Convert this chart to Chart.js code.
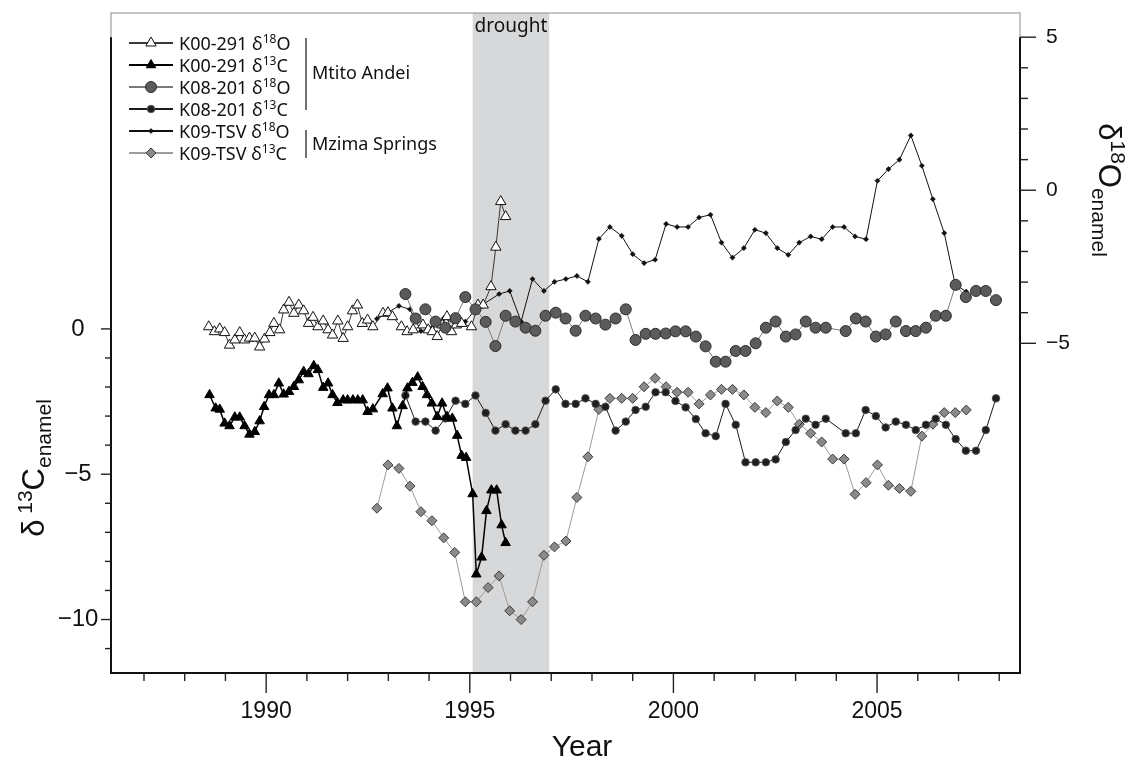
<!DOCTYPE html>
<html>
<head>
<meta charset="utf-8">
<title>Enamel isotope series</title>
<script src="https://cdn.jsdelivr.net/npm/chart.js@4.4.0/dist/chart.umd.min.js"></script>
<style>
  html, body { margin: 0; padding: 0; background: #fff; }
  canvas { display: block; }
</style>
</head>
<body>
<canvas id="isoChart" width="1130" height="761"></canvas>
<script>
// K00-291 (Mtito Andei), serial samples
const k00Years18 = [1988.59, 1988.73, 1988.86, 1988.98, 1989.10, 1989.23, 1989.35, 1989.47, 1989.59, 1989.72,
  1989.84, 1989.96, 1990.09, 1990.19, 1990.33, 1990.43, 1990.56, 1990.68, 1990.80, 1990.92,
  1991.04, 1991.15, 1991.27, 1991.40, 1991.52, 1991.63, 1991.76, 1991.89, 1992.00, 1992.12,
  1992.24, 1992.36, 1992.49, 1992.62, 1992.87, 1992.99, 1993.10, 1993.32, 1993.46, 1993.61,
  1993.85, 1993.98, 1994.08, 1994.20, 1994.32, 1994.44, 1994.55, 1994.67, 1994.80, 1995.04,
  1995.20, 1995.33, 1995.52, 1995.64, 1995.76, 1995.88];
const k00O18 = [-4.46, -4.62, -4.53, -4.65, -5.06, -4.89, -4.65, -4.89, -4.83, -4.83,
  -5.12, -4.86, -4.65, -4.35, -4.56, -3.91, -3.66, -4.02, -3.75, -3.94,
  -4.35, -4.15, -4.46, -4.27, -4.56, -4.73, -4.27, -4.84, -4.46, -3.94,
  -3.75, -4.35, -4.24, -4.46, -4.02, -4.00, -4.13, -4.46, -4.62, -4.56,
  -4.40, -4.56, -4.62, -4.78, -4.40, -4.13, -4.62, -4.40, -4.35, -4.46,
  -3.75, -3.75, -3.15, -1.86, -0.37, -0.86];

const k00Years13 = [1988.61, 1988.76, 1988.86, 1988.98, 1989.10, 1989.23, 1989.35, 1989.47, 1989.59, 1989.72,
  1989.84, 1989.95, 1990.07, 1990.19, 1990.31, 1990.43, 1990.56, 1990.68, 1990.80, 1990.92,
  1991.04, 1991.17, 1991.27, 1991.40, 1991.52, 1991.63, 1991.75, 1991.89, 1992.00, 1992.13,
  1992.25, 1992.37, 1992.49, 1992.62, 1992.86, 1992.98, 1993.10, 1993.21, 1993.35, 1993.47,
  1993.59, 1993.72, 1993.84, 1993.95, 1994.07, 1994.20, 1994.32, 1994.44, 1994.57, 1994.69,
  1994.80, 1994.91, 1995.07, 1995.16, 1995.29, 1995.41, 1995.53, 1995.66, 1995.78, 1995.88];
const k00C13 = [-2.27, -2.73, -2.77, -3.25, -3.34, -3.04, -3.04, -3.34, -3.63, -3.54,
  -3.17, -2.68, -2.27, -2.27, -1.87, -2.25, -2.16, -1.99, -1.76, -1.47,
  -1.55, -1.27, -1.41, -2.02, -1.87, -2.27, -2.54, -2.45, -2.45, -2.45,
  -2.45, -2.45, -2.85, -2.76, -2.24, -2.04, -2.73, -3.34, -2.65, -2.04,
  -1.85, -1.66, -1.99, -2.27, -2.56, -3.02, -2.56, -3.02, -3.08, -3.67,
  -4.36, -4.43, -5.68, -8.44, -7.86, -6.26, -5.55, -5.55, -6.75, -7.36];

// K08-201 (Mtito Andei), quarterly samples
const k08Years = [1993.42, 1993.67, 1993.91, 1994.16, 1994.40, 1994.65, 1994.89, 1995.14, 1995.39, 1995.63,
  1995.88, 1996.12, 1996.37, 1996.61, 1996.86, 1997.11, 1997.35, 1997.60, 1997.84, 1998.09,
  1998.33, 1998.58, 1998.83, 1999.07, 1999.32, 1999.56, 1999.81, 2000.05, 2000.30, 2000.55,
  2000.79, 2001.04, 2001.28, 2001.53, 2001.77, 2002.02, 2002.27, 2002.51, 2002.76, 2003.00,
  2003.25, 2003.49, 2003.74, 2004.23, 2004.48, 2004.72, 2004.97, 2005.21, 2005.46, 2005.71,
  2005.95, 2006.20, 2006.44, 2006.69, 2006.93, 2007.18, 2007.43, 2007.67, 2007.92];
const k08O18 = [-3.39, -4.19, -3.89, -4.29, -4.49, -4.18, -3.49, -3.89, -4.30, -5.09,
  -4.10, -4.29, -4.49, -4.59, -4.10, -4.00, -4.19, -4.59, -4.10, -4.19,
  -4.39, -4.19, -3.89, -4.89, -4.69, -4.69, -4.68, -4.61, -4.61, -4.78,
  -5.10, -5.60, -5.60, -5.25, -5.25, -5.00, -4.49, -4.29, -4.78, -4.71,
  -4.29, -4.49, -4.49, -4.60, -4.19, -4.29, -4.78, -4.71, -4.29, -4.60,
  -4.60, -4.49, -4.10, -4.10, -3.09, -3.49, -3.29, -3.29, -3.59];
const k08C13 = [-2.29, -3.19, -3.19, -3.50, -3.08, -2.47, -2.58, -2.29, -2.89, -3.50,
  -3.28, -3.50, -3.50, -3.28, -2.47, -2.08, -2.58, -2.58, -2.39, -2.58,
  -2.68, -3.50, -3.19, -2.79, -2.68, -2.18, -2.18, -2.48, -2.70, -3.10,
  -3.59, -3.69, -2.58, -3.30, -4.59, -4.59, -4.59, -4.49, -3.89, -3.48,
  -3.09, -3.30, -3.09, -3.59, -3.59, -2.79, -3.00, -3.39, -3.19, -3.30,
  -3.48, -3.30, -3.09, -3.30, -3.79, -4.19, -4.19, -3.48, -2.39];

// K09-TSV (Mzima Springs)
const k09Years = [1992.72, 1992.99, 1993.26, 1993.53, 1993.80, 1994.07, 1994.36, 1994.63, 1994.89, 1995.16,
  1995.45, 1995.72, 1995.98, 1996.26, 1996.54, 1996.82, 1997.08, 1997.36, 1997.63, 1997.90,
  1998.17, 1998.44, 1998.73, 1999.00, 1999.28, 1999.55, 1999.82, 2000.09, 2000.36, 2000.63,
  2000.91, 2001.18, 2001.45, 2001.73, 2002.00, 2002.27, 2002.55, 2002.82, 2003.09, 2003.37,
  2003.64, 2003.91, 2004.19, 2004.46, 2004.73, 2005.01, 2005.28, 2005.55, 2005.83, 2006.10,
  2006.37, 2006.65, 2006.92, 2007.19];
const k09O18 = [-4.20, -3.99, -3.78, -3.89, -4.60, -4.49, -4.18, -4.35, -4.29, -3.87,
  null, -3.39, -3.29, -4.29, -2.90, -3.29, -2.99, -2.90, -2.80, -2.99,
  -1.59, -1.20, -1.49, -2.09, -2.38, -2.27, -1.10, -1.20, -1.20, -0.89,
  -0.80, -1.71, -2.20, -1.89, -1.29, -1.40, -1.89, -2.11, -1.71, -1.51,
  -1.60, -1.20, -1.20, -1.51, -1.60, 0.31, 0.69, 1.00, 1.79, 0.80,
  -0.29, -1.40, -3.09, -3.31];
const k09C13 = [-6.17, -4.68, -4.80, -5.41, -6.29, -6.60, -7.19, -7.69, -9.39, -9.39,
  -8.90, -8.50, -9.70, -10.00, -9.39, -7.79, -7.50, -7.30, -5.80, -4.40,
  -2.77, -2.39, -2.39, -2.39, -1.99, -1.70, -1.99, -2.18, -2.18, -2.58,
  -2.27, -2.08, -2.08, -2.27, -2.70, -2.88, -2.48, -2.70, -3.28, -3.59,
  -3.89, -4.48, -4.48, -5.69, -5.29, -4.68, -5.38, -5.49, -5.59, -3.69,
  -3.28, -2.88, -2.88, -2.79];

// axis labels and the drought interval
const yearTicks = [1990, 1995, 2000, 2005];
const carbonTicks = [0, -5, -10];
const oxygenTicks = [5, 0, -5];
const droughtSpan = [1995.07, 1996.95];

const sansFont = '"Liberation Sans", Arial, Helvetica, sans-serif';
const labelFont = '"Noto Sans", "Open Sans", sans-serif';

function pairs(xs, ys) {
  return xs.map((x, i) => ({ x: x, y: ys[i] }));
}

const datasets = [
  {
    label: 'K00-291 δ18O', specimen: 'K00-291', iso: ['18', 'O'],
    data: pairs(k00Years18, k00O18), yAxisID: 'yO', order: 3,
    borderColor: '#3a3a3a', borderWidth: 1,
    pointStyle: 'triangle', pointRadius: 6,
    pointBackgroundColor: '#ffffff', pointBorderColor: '#111', pointBorderWidth: 1
  },
  {
    label: 'K00-291 δ13C', specimen: 'K00-291', iso: ['13', 'C'],
    data: pairs(k00Years13, k00C13), yAxisID: 'yC', order: 2,
    borderColor: '#000', borderWidth: 1.5,
    pointStyle: 'triangle', pointRadius: 5.5,
    pointBackgroundColor: '#000', pointBorderColor: '#000', pointBorderWidth: 1
  },
  {
    label: 'K08-201 δ18O', specimen: 'K08-201', iso: ['18', 'O'],
    data: pairs(k08Years, k08O18), yAxisID: 'yO', order: 1,
    borderColor: '#7a7a7a', borderWidth: 1,
    pointStyle: 'circle', pointRadius: 5.5,
    pointBackgroundColor: '#5b5b5b', pointBorderColor: '#2b2b2b', pointBorderWidth: 1
  },
  {
    label: 'K08-201 δ13C', specimen: 'K08-201', iso: ['13', 'C'],
    data: pairs(k08Years, k08C13), yAxisID: 'yC', order: 4,
    borderColor: '#1a1a1a', borderWidth: 1,
    pointStyle: 'circle', pointRadius: 3.8,
    pointBackgroundColor: '#1e1e1e', pointBorderColor: '#555', pointBorderWidth: 0.8
  },
  {
    label: 'K09-TSV δ18O', specimen: 'K09-TSV', iso: ['18', 'O'],
    data: pairs(k09Years, k09O18), yAxisID: 'yO', order: 5,
    borderColor: '#111', borderWidth: 1,
    pointStyle: 'rectRot', pointRadius: 2.6,
    pointBackgroundColor: '#111', pointBorderColor: '#111', pointBorderWidth: 0.5
  },
  {
    label: 'K09-TSV δ13C', specimen: 'K09-TSV', iso: ['13', 'C'],
    data: pairs(k09Years, k09C13), yAxisID: 'yC', order: 6,
    borderColor: '#9c9c9c', borderWidth: 1,
    pointStyle: 'rectRot', pointRadius: 5,
    pointBackgroundColor: '#8a8a8a', pointBorderColor: '#3c3c3c', pointBorderWidth: 1
  }
];

// text with raised / lowered runs, parts = [{t, size, dy}]
function drawRich(ctx, family, parts, x, y, align) {
  let total = 0;
  parts.forEach(p => {
    ctx.font = p.size + 'px ' + family;
    p.w = ctx.measureText(p.t).width;
    total += p.w;
  });
  let cx = align === 'center' ? x - total / 2 : x;
  ctx.textAlign = 'left';
  ctx.textBaseline = 'alphabetic';
  parts.forEach(p => {
    ctx.font = p.size + 'px ' + family;
    ctx.fillText(p.t, cx, y + (p.dy || 0));
    cx += p.w;
  });
}

function seg(ctx, x0, y0, x1, y1) {
  ctx.beginPath();
  ctx.moveTo(x0, y0);
  ctx.lineTo(x1, y1);
  ctx.stroke();
}

function drawMarker(ctx, ds, x, y) {
  ctx.save();
  ctx.fillStyle = ds.pointBackgroundColor;
  ctx.strokeStyle = ds.pointBorderColor;
  ctx.lineWidth = ds.pointBorderWidth;
  Chart.helpers.drawPoint(ctx, {
    pointStyle: ds.pointStyle, radius: ds.pointRadius, rotation: 0, borderWidth: ds.pointBorderWidth
  }, x, y);
  ctx.restore();
}

const isoAxes = {
  id: 'isoAxes',
  beforeDatasetsDraw(chart) {
    const { ctx, chartArea: a, scales: { x } } = chart;
    const x0 = x.getPixelForValue(droughtSpan[0]);
    const x1 = x.getPixelForValue(droughtSpan[1]);
    ctx.save();
    ctx.fillStyle = '#d7d8da';
    ctx.fillRect(x0, a.top, x1 - x0, a.bottom - a.top);
    ctx.restore();
  },
  afterDraw(chart) {
    const { ctx, chartArea: a, scales: { x, yC, yO } } = chart;
    ctx.save();

    // thin box, heavy axis lines
    ctx.strokeStyle = '#8c8c8c';
    ctx.lineWidth = 1;
    ctx.strokeRect(a.left, a.top, a.right - a.left, a.bottom - a.top);
    const axisTop = yO.getPixelForValue(5);
    ctx.strokeStyle = '#111';
    ctx.lineWidth = 2;
    seg(ctx, a.left, axisTop, a.left, a.bottom + 1);
    seg(ctx, a.right, axisTop, a.right, a.bottom + 1);
    seg(ctx, a.left - 1, a.bottom, a.right + 1, a.bottom);

    // tick marks
    ctx.strokeStyle = '#222';
    ctx.lineWidth = 1.4;
    for (let yr = 1987; yr <= 2008; yr++) {
      const px = x.getPixelForValue(yr);
      seg(ctx, px, a.bottom, px, a.bottom + (yr % 5 === 0 ? 20 : 8));
    }
    for (let v = 0; v >= -11; v--) {
      const py = yC.getPixelForValue(v);
      seg(ctx, a.left - (v % 5 === 0 ? 10 : 6), py, a.left, py);
    }
    for (let v = -5; v <= 5; v++) {
      const py = yO.getPixelForValue(v);
      seg(ctx, a.right, py, a.right + (v % 5 === 0 ? 16 : 8), py);
    }

    // tick labels
    ctx.fillStyle = '#111';
    ctx.textBaseline = 'middle';
    ctx.textAlign = 'center';
    ctx.font = '23px ' + sansFont;
    yearTicks.forEach(yr => ctx.fillText(String(yr), x.getPixelForValue(yr), 712));
    ctx.font = '24px ' + sansFont;
    carbonTicks.forEach(v => ctx.fillText(String(v).replace('-', '\u2212'), 78, yC.getPixelForValue(v)));
    ctx.textAlign = 'left';
    ctx.font = '21px ' + sansFont;
    oxygenTicks.forEach(v => ctx.fillText(String(v).replace('-', '\u2212'), 1046, yO.getPixelForValue(v)));

    // axis titles
    ctx.textAlign = 'center';
    ctx.textBaseline = 'alphabetic';
    ctx.font = '30px ' + sansFont;
    ctx.fillText('Year', 582, 756);

    ctx.save();
    ctx.translate(44, 468);
    ctx.rotate(-Math.PI / 2);
    drawRich(ctx, sansFont, [
      { t: 'δ', size: 31 }, { t: ' 13', size: 21, dy: -12 }, { t: 'C', size: 31 }, { t: 'enamel', size: 21, dy: 7 }
    ], 0, 0, 'center');
    ctx.restore();

    ctx.save();
    ctx.translate(1099, 190);
    ctx.rotate(Math.PI / 2);
    drawRich(ctx, sansFont, [
      { t: 'δ', size: 31 }, { t: '18', size: 21, dy: -12 }, { t: 'O', size: 31 }, { t: 'enamel', size: 21, dy: 7 }
    ], 0, 0, 'center');
    ctx.restore();

    // drought label
    ctx.font = '19px ' + labelFont;
    ctx.textAlign = 'center';
    ctx.textBaseline = 'middle';
    ctx.fillText('drought', (x.getPixelForValue(droughtSpan[0]) + x.getPixelForValue(droughtSpan[1])) / 2, 27);

    // legend
    chart.data.datasets.forEach((ds, i) => {
      const ly = 43 + 22 * i;
      ctx.strokeStyle = ds.borderColor;
      ctx.lineWidth = 2;
      seg(ctx, 129, ly, 173, ly);
      drawMarker(ctx, ds, 151, ly);
      ctx.fillStyle = '#111';
      drawRich(ctx, labelFont, [
        { t: ds.specimen + ' δ', size: 18 }, { t: ds.iso[0], size: 12, dy: -7 }, { t: ds.iso[1], size: 18 }
      ], 179, ly + 6.5, 'left');
    });

    // site brackets
    ctx.strokeStyle = '#111';
    ctx.lineWidth = 1.2;
    seg(ctx, 306, 38, 306, 110);
    seg(ctx, 306, 130, 306, 158);
    ctx.font = '18px ' + labelFont;
    ctx.textAlign = 'left';
    ctx.textBaseline = 'middle';
    ctx.fillText('Mtito Andei', 312, 74);
    ctx.fillText('Mzima Springs', 312, 145);

    ctx.restore();
  }
};

new Chart(document.getElementById('isoChart'), {
  type: 'line',
  data: { datasets: datasets },
  options: {
    responsive: false,
    animation: false,
    devicePixelRatio: 1,
    spanGaps: true,
    layout: { padding: { left: 111, right: 110, top: 13, bottom: 88 } },
    elements: { line: { tension: 0 } },
    plugins: { legend: { display: false }, tooltip: { enabled: false } },
    scales: {
      x: { type: 'linear', display: false, min: 1986.19, max: 2008.51 },
      yC: { type: 'linear', display: false, min: -11.84, max: 10.87 },
      yO: { type: 'linear', display: false, min: -15.77, max: 5.79 }
    }
  },
  plugins: [isoAxes]
});
</script>
</body>
</html>
